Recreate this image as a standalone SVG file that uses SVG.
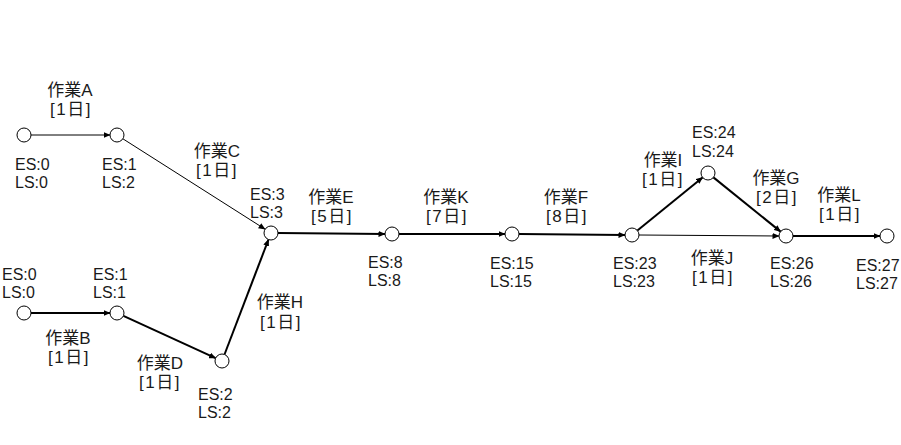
<svg xmlns="http://www.w3.org/2000/svg" width="901" height="445" viewBox="0 0 901 445">
<style>
text{font-family:"Liberation Sans","Noto Sans CJK JP",sans-serif;fill:#1a1a1a}
.l{font-size:17px;text-anchor:middle}
.d{letter-spacing:1.5px}
.s{font-size:16px}
.n{fill:#fff;stroke:#000;stroke-width:1}
.thin{stroke:#000;stroke-width:1;fill:none;marker-end:url(#ah)}
.thick{stroke:#000;stroke-width:2;fill:none;marker-end:url(#ah)}
</style>
<defs>
<marker id="ah" markerUnits="userSpaceOnUse" markerWidth="7" markerHeight="6" refX="6.5" refY="3" orient="auto">
<path d="M0,0 L7,3 L0,6 Z" fill="#000"/>
</marker>
</defs>
<rect width="901" height="445" fill="#fff"/>
<g id="connectors">
<line class="thin" x1="31" y1="135" x2="110" y2="135"/>
<line class="thick" x1="31" y1="313" x2="110" y2="313"/>
<line class="thin" x1="122.9" y1="138.8" x2="265.1" y2="229.2"/>
<line class="thick" x1="123.4" y1="315.9" x2="215.6" y2="358.1"/>
<line class="thick" x1="224.5" y1="354.5" x2="268.5" y2="239.5"/>
<line class="thick" x1="278" y1="233" x2="385" y2="234"/>
<line class="thick" x1="399" y1="234" x2="505" y2="234"/>
<line class="thick" x1="519" y1="234" x2="625" y2="235"/>
<line class="thick" x1="637.4" y1="230.6" x2="702.6" y2="177.4"/>
<line class="thick" x1="713.4" y1="177.4" x2="780.6" y2="231.6"/>
<line class="thin" x1="639" y1="235" x2="779" y2="236"/>
<line class="thick" x1="793" y1="236" x2="880" y2="236"/>
</g>
<g id="edge-labels">
<text class="l"><tspan x="70" y="96">作業A</tspan><tspan class="d" x="71" y="115">[1日]</tspan></text>
<text class="l"><tspan x="68" y="344">作業B</tspan><tspan class="d" x="69" y="363">[1日]</tspan></text>
<text class="l"><tspan x="217" y="157">作業C</tspan><tspan class="d" x="217" y="176">[1日]</tspan></text>
<text class="l"><tspan x="160" y="369">作業D</tspan><tspan class="d" x="160" y="388">[1日]</tspan></text>
<text class="l"><tspan x="280" y="308">作業H</tspan><tspan class="d" x="281" y="328">[1日]</tspan></text>
<text class="l"><tspan x="331" y="203">作業E</tspan><tspan class="d" x="332" y="222">[5日]</tspan></text>
<text class="l"><tspan x="446" y="203">作業K</tspan><tspan class="d" x="447" y="222">[7日]</tspan></text>
<text class="l"><tspan x="566" y="203">作業F</tspan><tspan class="d" x="567" y="222">[8日]</tspan></text>
<text class="l"><tspan x="663" y="166">作業I</tspan><tspan class="d" x="663" y="185">[1日]</tspan></text>
<text class="l"><tspan x="776" y="184">作業G</tspan><tspan class="d" x="777" y="203">[2日]</tspan></text>
<text class="l"><tspan x="839" y="201">作業L</tspan><tspan class="d" x="840" y="220">[1日]</tspan></text>
<text class="l"><tspan x="712" y="264">作業J</tspan><tspan class="d" x="713" y="283">[1日]</tspan></text>
</g>
<g id="n1"><circle class="n" cx="24" cy="135" r="7"/><text class="s"><tspan x="15" y="170">ES:0</tspan><tspan x="15" y="188">LS:0</tspan></text></g>
<g id="n2"><circle class="n" cx="117" cy="135" r="7"/><text class="s"><tspan x="102" y="170">ES:1</tspan><tspan x="102" y="188">LS:2</tspan></text></g>
<g id="n3"><circle class="n" cx="24" cy="313" r="7"/><text class="s"><tspan x="2" y="280">ES:0</tspan><tspan x="2" y="298">LS:0</tspan></text></g>
<g id="n4"><circle class="n" cx="117" cy="313" r="7"/><text class="s"><tspan x="93" y="280">ES:1</tspan><tspan x="93" y="298">LS:1</tspan></text></g>
<g id="n5"><circle class="n" cx="222" cy="361" r="7"/><text class="s"><tspan x="198" y="400">ES:2</tspan><tspan x="198" y="418">LS:2</tspan></text></g>
<g id="n6"><circle class="n" cx="271" cy="233" r="7"/><text class="s"><tspan x="250" y="200">ES:3</tspan><tspan x="250" y="218">LS:3</tspan></text></g>
<g id="n7"><circle class="n" cx="392" cy="234" r="7"/><text class="s"><tspan x="368" y="268">ES:8</tspan><tspan x="368" y="286">LS:8</tspan></text></g>
<g id="n8"><circle class="n" cx="512" cy="234" r="7"/><text class="s"><tspan x="490" y="269">ES:15</tspan><tspan x="490" y="287">LS:15</tspan></text></g>
<g id="n9"><circle class="n" cx="632" cy="235" r="7"/><text class="s"><tspan x="613" y="269">ES:23</tspan><tspan x="613" y="287">LS:23</tspan></text></g>
<g id="n10"><circle class="n" cx="708" cy="173" r="7"/><text class="s"><tspan x="692" y="138">ES:24</tspan><tspan x="692" y="157">LS:24</tspan></text></g>
<g id="n11"><circle class="n" cx="786" cy="236" r="7"/><text class="s"><tspan x="770" y="269">ES:26</tspan><tspan x="770" y="287">LS:26</tspan></text></g>
<g id="n12"><circle class="n" cx="887" cy="236" r="7"/><text class="s"><tspan x="856" y="271">ES:27</tspan><tspan x="856" y="289">LS:27</tspan></text></g>
</svg>
